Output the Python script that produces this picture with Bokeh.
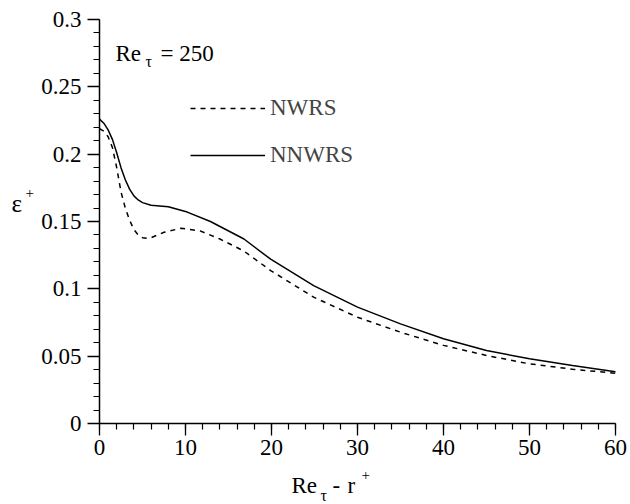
from bokeh.plotting import figure
from bokeh.models import Range1d, FixedTicker, Label, Legend, LegendItem
from bokeh.embed import file_html
from bokeh.resources import INLINE

# Data
nnwrs_x = [0, 0.5, 1.0, 1.5, 2.0, 2.5, 3.0, 3.5, 4.0, 4.5, 5.0, 6.0, 8.0, 10.2, 12.9, 16.8, 19.9, 24.9,
           30, 35, 40, 45, 50, 55, 60]
nnwrs_y = [0.226, 0.223, 0.218, 0.211, 0.201, 0.190, 0.181, 0.174, 0.169, 0.166, 0.164, 0.162, 0.161, 0.157,
           0.150, 0.137, 0.122, 0.1024, 0.0864, 0.074, 0.0629, 0.0542, 0.048, 0.043, 0.0385]

nwrs_x = [0, 0.5, 1.0, 1.5, 2.0, 2.5, 3.0, 3.5, 4.0, 4.5, 5.0, 5.5, 6.0, 7.5, 9.5, 11.7, 14, 16.8, 19.9, 24.9,
          30, 35, 40, 45, 50, 55, 60]
nwrs_y = [0.219, 0.217, 0.213, 0.205, 0.190, 0.172, 0.160, 0.151, 0.144, 0.140, 0.138, 0.1375, 0.138, 0.142,
          0.145, 0.143, 0.137, 0.128, 0.1136, 0.0938, 0.0789, 0.0678, 0.058, 0.0505, 0.0443, 0.0403, 0.0373]

x_ticks = [0, 10, 20, 30, 40, 50, 60]
x_minor = [v for v in range(0, 61, 2)]
y_ticks = [0, 0.05, 0.1, 0.15, 0.2, 0.25, 0.3]
y_tick_labels = ["0", "0.05", "0.1", "0.15", "0.2", "0.25", "0.3"]
y_minor = [i / 100 for i in range(0, 31)]

FONT = "Liberation Serif"

W, H = 630, 504
# where the axes' box sits in the picture (pixels)
BOX_L, BOX_R, BOX_T, BOX_B = 99, 615, 19, 423
X0, X1, Y0, Y1 = 0, 60, 0, 0.3
sx = (BOX_R - BOX_L) / (X1 - X0)
sy = (BOX_B - BOX_T) / (Y1 - Y0)

p = figure(width=W, height=H, output_backend="svg", toolbar_location=None,
           x_range=Range1d(X0 - BOX_L / sx, X1 + (W - BOX_R) / sx),
           y_range=Range1d(Y0 - (H - BOX_B) / sy, Y1 + BOX_T / sy),
           min_border=0, min_border_left=0, min_border_right=0, min_border_top=0, min_border_bottom=0)
p.outline_line_color = None
p.grid.visible = False
p.background_fill_color = "white"
p.border_fill_color = "white"

for ax in (p.xaxis[0], p.yaxis[0]):
    ax.axis_line_width = 1.5
    ax.axis_line_color = "black"
    ax.major_tick_out = 12
    ax.major_tick_in = 0
    ax.minor_tick_out = 6
    ax.minor_tick_in = 0
    ax.major_tick_line_width = 1.3
    ax.minor_tick_line_width = 1.2
    ax.major_tick_line_color = "black"
    ax.minor_tick_line_color = "black"
    ax.major_label_text_font = FONT
    ax.major_label_text_font_size = "23px"
    ax.major_label_text_color = "black"
p.xaxis[0].major_label_standoff = 4
p.yaxis[0].major_label_standoff = 6
p.xaxis[0].fixed_location = Y0
p.yaxis[0].fixed_location = X0
p.xaxis[0].bounds = (X0, X1)
p.yaxis[0].bounds = (Y0, Y1)

p.xaxis[0].ticker = FixedTicker(ticks=x_ticks, minor_ticks=x_minor)
p.yaxis[0].ticker = FixedTicker(ticks=y_ticks, minor_ticks=y_minor)
p.yaxis[0].major_label_overrides = {t: l for t, l in zip(y_ticks, y_tick_labels)}

r_dash = p.line(nwrs_x, nwrs_y, line_color="black", line_width=1.5, line_dash="5 5")
r_solid = p.line(nnwrs_x, nnwrs_y, line_color="black", line_width=1.5)

legend = Legend(items=[LegendItem(label="NWRS", renderers=[r_dash]),
                       LegendItem(label="NNWRS", renderers=[r_solid])],
                location=(190, H - 168), orientation="vertical",
                glyph_width=75, glyph_height=22, label_height=22, spacing=21,
                label_standoff=5, padding=0, margin=0,
                label_text_font=FONT, label_text_font_size="23px",
                border_line_alpha=0, background_fill_alpha=0)
p.add_layout(legend, "center")


def lab(text, px, py, size):
    # frame fills the canvas: screen units from its bottom-left corner
    p.add_layout(Label(x=px, y=H - py, x_units="screen", y_units="screen", text=text,
                       text_font=FONT, text_font_size=size,
                       text_baseline="alphabetic", text_align="left", text_color="black"))


# Re_tau = 250
lab("Re", 115, 53, "23px")
lab("τ", 145, 61, "16px")
lab("= 250", 160, 53, "23px")

# x-axis title: Re_tau - r+
lab("Re", 291, 485, "23px")
lab("τ", 320, 495, "16px")
lab("-", 332, 485, "23px")
lab("r", 347, 485, "23px")
lab("+", 361, 474, "15px")

# y-axis title: epsilon+
lab("ε", 11, 203, "25px")
lab("+", 25, 192, "15px")

open("out.html", "w").write(file_html(p, INLINE))
